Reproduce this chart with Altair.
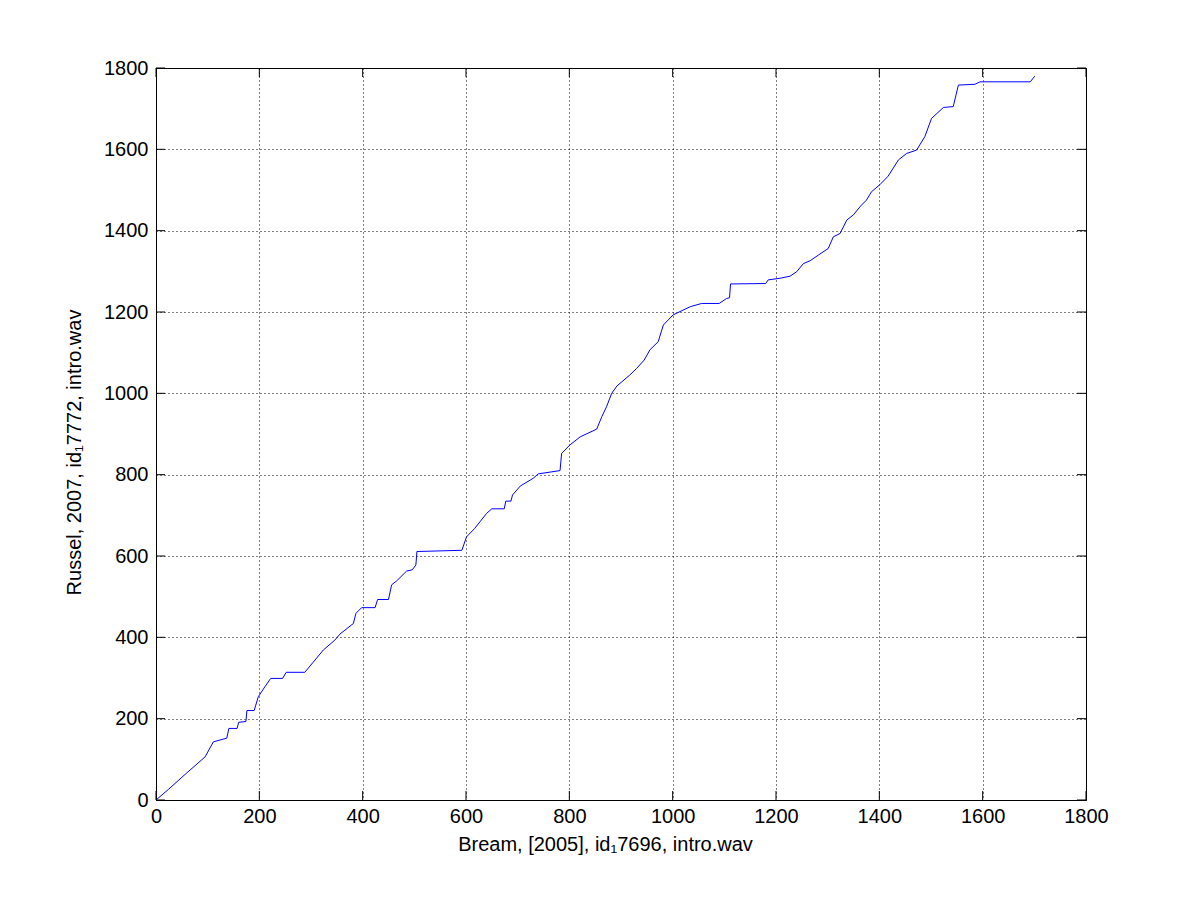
import altair as alt
import pandas as pd

# Data (x: Bream, y: Russel)
x_vals = [0, 24, 59, 95, 111, 137, 141, 157, 160, 174, 176, 190, 198, 211, 222, 245, 252, 288,
          324, 346, 356, 382, 387, 398, 424, 429, 450, 456, 466, 485, 496, 503, 505, 592,
          601, 617, 627, 640, 650, 674, 677, 687, 690, 705, 730, 740, 782, 785, 801, 821,
          853, 863, 872, 882, 892, 917, 930, 945, 956, 972, 982, 1001, 1034, 1056, 1090,
          1104, 1110, 1112, 1180, 1185, 1208, 1227, 1240, 1253, 1266, 1282, 1301, 1311,
          1324, 1337, 1350, 1364, 1375, 1385, 1401, 1417, 1437, 1453, 1472, 1488, 1501,
          1524, 1543, 1553, 1585, 1595, 1692, 1701]
y_vals = [0, 26, 66, 106, 143, 152, 176, 176, 191, 193, 220, 220, 254, 279, 299, 299, 314, 314,
          369, 393, 408, 434, 459, 473, 473, 493, 493, 529, 539, 563, 566, 578, 611, 614,
          647, 668, 684, 705, 716, 716, 735, 735, 750, 772, 791, 802, 810, 852, 873, 893,
          912, 943, 967, 1000, 1018, 1045, 1061, 1082, 1107, 1127, 1168, 1193, 1213, 1221, 1221,
          1233, 1235, 1269, 1270, 1279, 1283, 1288, 1299, 1319, 1326, 1340, 1356, 1385,
          1393, 1426, 1439, 1461, 1475, 1496, 1513, 1534, 1574, 1590, 1598, 1631, 1676,
          1703, 1705, 1758, 1760, 1766, 1766, 1780]
tick_values = [0, 200, 400, 600, 800, 1000, 1200, 1400, 1600, 1800]
x_title = "Bream, [2005], id\u20817696, intro.wav"
y_title = "Russel, 2007, id\u20817772, intro.wav"

W, H = 930, 732
FONT = "Liberation Sans"
FS = 20

df = pd.DataFrame({"x": x_vals, "y": y_vals, "i": list(range(len(x_vals)))})
ticks = pd.DataFrame({"t": tick_values})

xs = alt.Scale(domain=[0, 1800], nice=False, zero=False)
ys = alt.Scale(domain=[0, 1800], nice=False, zero=False)

common = dict(values=tick_values, format="d", grid=True, gridDash=[1, 3], gridColor="black",
              gridOpacity=1, tickSize=0, labelFontSize=FS,
              labelFont=FONT, labelColor="black", titleFont=FONT, titleFontSize=FS,
              titleFontWeight="normal", titleColor="black",
              domainColor="black", labelFlush=False)
xaxis = alt.Axis(labelPadding=6, titlePadding=8, titleX=449, **common)
yaxis = alt.Axis(labelPadding=8, titlePadding=19, titleY=384, **common)

line = alt.Chart(df).mark_line(color="#0000ff", strokeWidth=1).encode(
    x=alt.X("x:Q", scale=xs, axis=xaxis, title=x_title),
    y=alt.Y("y:Q", scale=ys, axis=yaxis, title=y_title),
    order="i:Q",
)

TL = 9
tick_bottom = alt.Chart(ticks).mark_rule(color="black", strokeWidth=1).encode(
    x=alt.X("t:Q", scale=xs), y=alt.value(H), y2=alt.value(H - TL))
tick_top = alt.Chart(ticks).mark_rule(color="black", strokeWidth=1).encode(
    x=alt.X("t:Q", scale=xs), y=alt.value(0), y2=alt.value(TL))
tick_left = alt.Chart(ticks).mark_rule(color="black", strokeWidth=1).encode(
    y=alt.Y("t:Q", scale=ys), x=alt.value(0), x2=alt.value(TL))
tick_right = alt.Chart(ticks).mark_rule(color="black", strokeWidth=1).encode(
    y=alt.Y("t:Q", scale=ys), x=alt.value(W), x2=alt.value(W - TL))

chart = alt.layer(line, tick_bottom, tick_top, tick_left, tick_right).properties(
    width=W, height=H,
    autosize=alt.AutoSizeParams(type="none"),
    padding={"left": 148, "top": 60, "right": 106, "bottom": 92},
    background="white",
).configure_view(stroke="black", strokeWidth=1)

chart.save("out.html", embed_options={"renderer": "svg", "actions": False})
